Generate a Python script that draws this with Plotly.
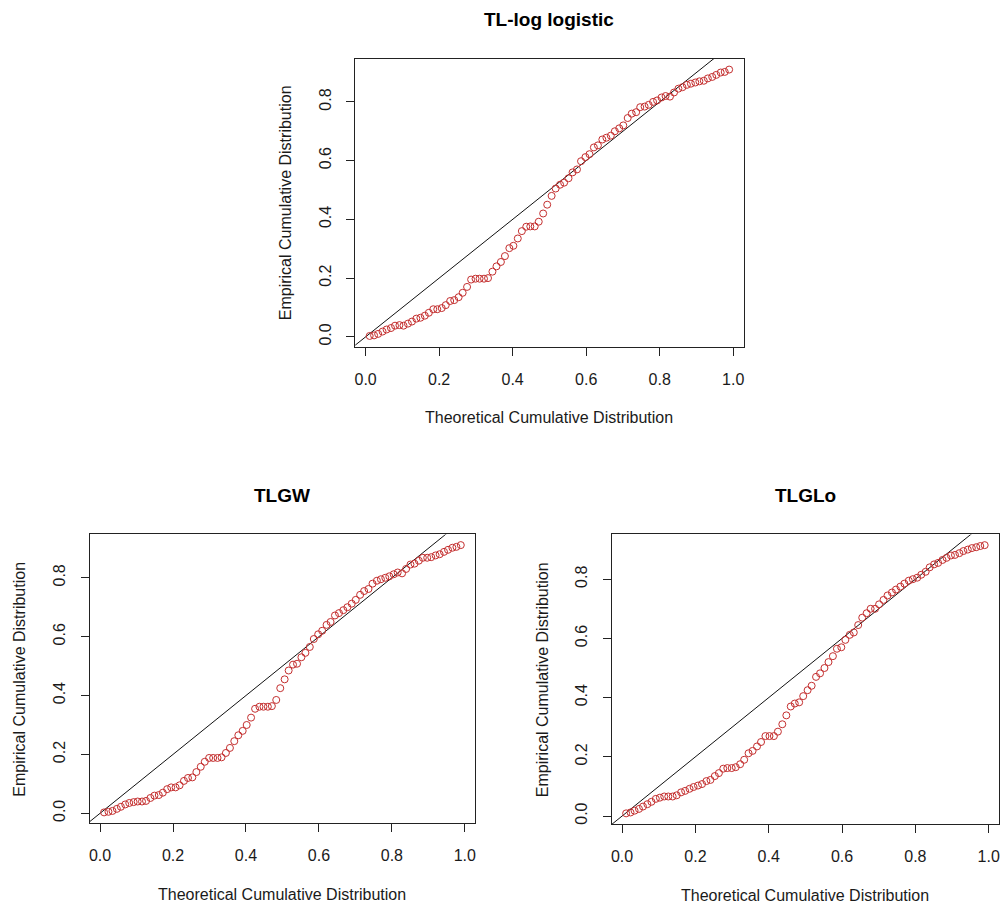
import plotly.graph_objects as go

# Theoretical plotting positions (shared x for all three panels)
theoretical = [0.011, 0.023, 0.034, 0.046, 0.057, 0.069, 0.080, 0.092, 0.103, 0.115,
               0.126, 0.138, 0.149, 0.161, 0.172, 0.184, 0.195, 0.207, 0.218, 0.230,
               0.241, 0.253, 0.264, 0.276, 0.287, 0.299, 0.310, 0.322, 0.333, 0.345,
               0.356, 0.368, 0.379, 0.391, 0.402, 0.414, 0.425, 0.437, 0.448, 0.460,
               0.471, 0.483, 0.494, 0.506, 0.517, 0.529, 0.540, 0.552, 0.563, 0.575,
               0.586, 0.598, 0.609, 0.621, 0.632, 0.644, 0.655, 0.667, 0.678, 0.690,
               0.701, 0.713, 0.724, 0.736, 0.747, 0.759, 0.770, 0.782, 0.793, 0.805,
               0.816, 0.828, 0.839, 0.851, 0.862, 0.874, 0.885, 0.897, 0.908, 0.920,
               0.931, 0.943, 0.954, 0.966, 0.977, 0.989]

emp_tl_loglogistic = [0.003, 0.005, 0.010, 0.018, 0.025, 0.030, 0.038, 0.040, 0.038, 0.045,
                      0.052, 0.062, 0.065, 0.072, 0.082, 0.094, 0.094, 0.098, 0.108, 0.122,
                      0.125, 0.135, 0.150, 0.170, 0.195, 0.198, 0.198, 0.198, 0.200, 0.222,
                      0.240, 0.255, 0.275, 0.302, 0.310, 0.335, 0.360, 0.375, 0.376, 0.376,
                      0.392, 0.420, 0.450, 0.480, 0.505, 0.518, 0.525, 0.540, 0.560, 0.570,
                      0.598, 0.612, 0.622, 0.645, 0.652, 0.672, 0.678, 0.685, 0.700, 0.710,
                      0.720, 0.745, 0.760, 0.765, 0.782, 0.784, 0.790, 0.800, 0.805, 0.815,
                      0.820, 0.818, 0.832, 0.845, 0.850, 0.858, 0.862, 0.866, 0.870, 0.872,
                      0.880, 0.885, 0.892, 0.900, 0.902, 0.910]

emp_tlgw = [0.003, 0.005, 0.008, 0.015, 0.022, 0.030, 0.035, 0.038, 0.040, 0.040,
            0.042, 0.052, 0.060, 0.062, 0.070, 0.082, 0.088, 0.088, 0.095, 0.110,
            0.120, 0.122, 0.140, 0.158, 0.175, 0.188, 0.188, 0.188, 0.190, 0.205,
            0.222, 0.245, 0.265, 0.280, 0.300, 0.325, 0.355, 0.362, 0.362, 0.362,
            0.364, 0.385, 0.425, 0.455, 0.485, 0.505, 0.508, 0.530, 0.545, 0.565,
            0.592, 0.608, 0.620, 0.640, 0.650, 0.672, 0.680, 0.690, 0.700, 0.712,
            0.725, 0.742, 0.755, 0.762, 0.780, 0.790, 0.795, 0.800, 0.805, 0.812,
            0.818, 0.815, 0.830, 0.845, 0.848, 0.858, 0.868, 0.868, 0.870, 0.876,
            0.880, 0.888, 0.895, 0.902, 0.905, 0.911]

emp_tlglo = [0.009, 0.012, 0.018, 0.024, 0.032, 0.040, 0.048, 0.058, 0.062, 0.066,
             0.066, 0.066, 0.070, 0.080, 0.085, 0.092, 0.098, 0.103, 0.108, 0.118,
             0.122, 0.135, 0.145, 0.160, 0.162, 0.162, 0.165, 0.175, 0.190, 0.212,
             0.220, 0.235, 0.250, 0.270, 0.270, 0.270, 0.285, 0.310, 0.340, 0.370,
             0.380, 0.384, 0.405, 0.425, 0.440, 0.470, 0.482, 0.500, 0.520, 0.540,
             0.565, 0.570, 0.595, 0.612, 0.620, 0.645, 0.670, 0.685, 0.700, 0.700,
             0.715, 0.730, 0.745, 0.755, 0.765, 0.775, 0.785, 0.795, 0.800, 0.805,
             0.815, 0.825, 0.840, 0.850, 0.855, 0.865, 0.872, 0.880, 0.882, 0.888,
             0.895, 0.900, 0.905, 0.908, 0.912, 0.915]

titles = ["TL-log logistic", "TLGW", "TLGLo"]
x_title = "Theoretical Cumulative Distribution"
y_title = "Empirical Cumulative Distribution"
x_ticks = [0.0, 0.2, 0.4, 0.6, 0.8, 1.0]
y_ticks = [0.0, 0.2, 0.4, 0.6, 0.8]
ref_line = [-1.0, 2.0]

W, H = 1008, 909
FONT = "Liberation Sans, Arial, sans-serif"
TXT = "#1a1a1a"
PT = "#c42f2f"

# panel boxes in pixels: left, right, top, bottom
boxes = [(355, 744, 59, 347), (89, 475, 535, 824), (612, 1000, 535, 825)]
series = [emp_tl_loglogistic, emp_tlgw, emp_tlglo]

fig = go.Figure()
annotations = []

for k, (box, ys, ttl) in enumerate(zip(boxes, series, titles)):
    l, r, t, b = box
    ax = "" if k == 0 else str(k + 1)
    xa, ya = "x" + ax, "y" + ax
    fig.add_trace(go.Scatter(x=ref_line, y=ref_line, mode="lines",
                             line=dict(color="#111111", width=1),
                             xaxis=xa, yaxis=ya, showlegend=False, hoverinfo="skip"))
    fig.add_trace(go.Scatter(x=theoretical, y=ys, mode="markers",
                             marker=dict(symbol="circle-open", size=7, color=PT,
                                         line=dict(width=1, color=PT)),
                             xaxis=xa, yaxis=ya, showlegend=False, cliponaxis=False))
    xmin, xmax = min(theoretical), max(theoretical)
    ymin, ymax = min(ys), max(ys)
    xs, ysp = xmax - xmin, ymax - ymin
    common = dict(showline=True, mirror=True, linecolor="#222222", linewidth=1,
                  ticks="outside", ticklen=8, tickwidth=1, tickcolor="#222222",
                  showgrid=False, zeroline=False,
                  tickfont=dict(family=FONT, size=16, color=TXT),
                  tickformat=".1f")
    fig.layout["xaxis" + ax] = dict(domain=[l / W, r / W],
                                    range=[xmin - 0.04 * xs, xmax + 0.04 * xs],
                                    tickvals=x_ticks, anchor=ya, ticklabelstandoff=10,
                                    **common)
    fig.layout["yaxis" + ax] = dict(domain=[1 - b / H, 1 - t / H],
                                    range=[ymin - 0.04 * ysp, ymax + 0.04 * ysp],
                                    tickvals=y_ticks, anchor=xa, tickangle=-90,
                                    ticklabelstandoff=9, **common)
    cx = (l + r) / 2 / W
    cy = (t + b) / 2
    annotations.append(dict(text="<b>" + ttl + "</b>", x=cx, y=1 - (t - 39) / H,
                            xref="paper", yref="paper", showarrow=False,
                            xanchor="center", yanchor="middle",
                            font=dict(family=FONT, size=19, color="#000000")))
    annotations.append(dict(text=x_title, x=cx, y=1 - (b + 71) / H,
                            xref="paper", yref="paper", showarrow=False,
                            xanchor="center", yanchor="middle",
                            font=dict(family=FONT, size=16, color=TXT)))
    annotations.append(dict(text=y_title, x=(l - 70) / W, y=1 - cy / H,
                            xref="paper", yref="paper", showarrow=False,
                            xanchor="center", yanchor="middle", textangle=-90,
                            font=dict(family=FONT, size=16, color=TXT)))

fig.update_layout(width=W, height=H, margin=dict(l=0, r=0, t=0, b=0),
                  paper_bgcolor="white", plot_bgcolor="white",
                  annotations=annotations)

fig.write_html("out.html", config={"displayModeBar": False},
               post_script="document.body.style.margin='0px';"
                           "document.body.style.overflow='hidden';")
